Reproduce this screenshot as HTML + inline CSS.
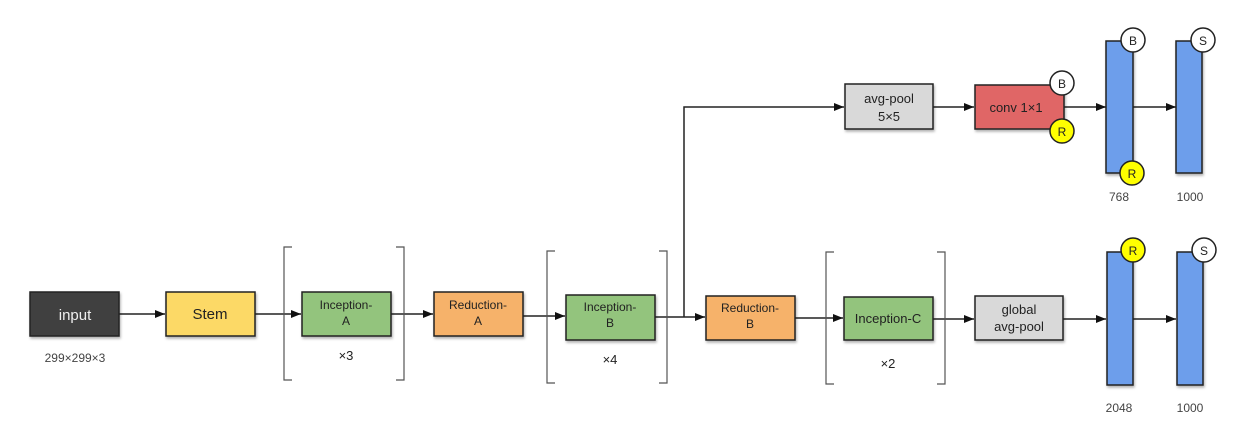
<!DOCTYPE html>
<html><head><meta charset="utf-8"><style>
html,body{margin:0;padding:0;background:#fff;}
svg{display:block;font-family:"Liberation Sans",Arial,sans-serif;}
</style></head><body>
<svg width="1250" height="444" viewBox="0 0 1250 444" xmlns="http://www.w3.org/2000/svg">
<defs>
<marker id="a" markerWidth="10" markerHeight="8" refX="10" refY="4" orient="auto" markerUnits="userSpaceOnUse">
<path d="M0,0 L10,4 L0,8 z" fill="#111"/></marker>
<filter id="sh" x="-10%" y="-10%" width="130%" height="140%"><feDropShadow dx="1" dy="2" stdDeviation="1.2" flood-color="#000" flood-opacity="0.3"/></filter>
</defs>
<g stroke="#222" stroke-width="1.5" fill="none">
<line x1="119" y1="314" x2="165" y2="314" marker-end="url(#a)"/>
<line x1="255" y1="314" x2="301" y2="314" marker-end="url(#a)"/>
<line x1="391" y1="314" x2="433" y2="314" marker-end="url(#a)"/>
<line x1="523" y1="316" x2="565" y2="316" marker-end="url(#a)"/>
<line x1="655" y1="317" x2="705" y2="317" marker-end="url(#a)"/>
<polyline points="684,317 684,107 844,107" marker-end="url(#a)"/>
<line x1="933" y1="107" x2="974" y2="107" marker-end="url(#a)"/>
<line x1="1064" y1="107" x2="1106" y2="107" marker-end="url(#a)"/>
<line x1="1133" y1="107" x2="1176" y2="107" marker-end="url(#a)"/>
<line x1="795" y1="318" x2="843" y2="318" marker-end="url(#a)"/>
<line x1="933" y1="319" x2="974" y2="319" marker-end="url(#a)"/>
<line x1="1063" y1="319" x2="1106" y2="319" marker-end="url(#a)"/>
<line x1="1133" y1="319" x2="1176" y2="319" marker-end="url(#a)"/>
</g>
<!-- brackets -->
<g stroke="#555" stroke-width="1.2" fill="none">
<path d="M292,247 H284 V380 H292"/><path d="M396,247 H404 V380 H396"/>
<path d="M555,251 H547 V383 H555"/><path d="M659,251 H667 V383 H659"/>
<path d="M834,252 H826 V384 H834"/><path d="M937,252 H945 V384 H937"/>
</g>
<g stroke="#222" stroke-width="1.5" filter="url(#sh)">
<rect x="30" y="292" width="89" height="44" fill="#404040"/>
<rect x="166" y="292" width="89" height="44" fill="#fcd966"/>
<rect x="302" y="292" width="89" height="44" fill="#93c47d"/>
<rect x="434" y="292" width="89" height="44" fill="#f6b26b"/>
<rect x="566" y="295" width="89" height="45" fill="#93c47d"/>
<rect x="706" y="296" width="89" height="44" fill="#f6b26b"/>
<rect x="844" y="297" width="89" height="43" fill="#93c47d"/>
<rect x="975" y="296" width="88" height="44" fill="#d9d9d9"/>
<rect x="845" y="84" width="88" height="45" fill="#d9d9d9"/>
<rect x="975" y="85" width="89" height="44" fill="#e06666"/>
<rect x="1106" y="41" width="27" height="132" fill="#6d9eeb"/>
<rect x="1176" y="41" width="26" height="132" fill="#6d9eeb"/>
<rect x="1107" y="252" width="26" height="133" fill="#6d9eeb"/>
<rect x="1177" y="252" width="26" height="133" fill="#6d9eeb"/>
</g>
<g stroke="#222" stroke-width="1.5">
<circle cx="1062" cy="83" r="12" fill="#fff"/>
<circle cx="1062" cy="131" r="12" fill="#ffff00"/>
<circle cx="1133" cy="40" r="12" fill="#fff"/>
<circle cx="1132" cy="173" r="12" fill="#ffff00"/>
<circle cx="1203" cy="40" r="12" fill="#fff"/>
<circle cx="1133" cy="250" r="12" fill="#ffff00"/>
<circle cx="1204" cy="250" r="12" fill="#fff"/>
</g>
<g font-size="12" fill="#222" text-anchor="middle">
<text x="1062" y="88">B</text><text x="1062" y="136">R</text>
<text x="1133" y="45">B</text><text x="1132" y="178">R</text>
<text x="1203" y="45">S</text><text x="1133" y="255">R</text>
<text x="1204" y="255">S</text>
</g>
<g text-anchor="middle" fill="#222">
<text x="75" y="320" font-size="15" fill="#eee">input</text>
<text x="210" y="319" font-size="15">Stem</text>
<text x="346" y="309" font-size="12">Inception-</text><text x="346" y="325" font-size="12">A</text>
<text x="478" y="309" font-size="12">Reduction-</text><text x="478" y="325" font-size="12">A</text>
<text x="610" y="311" font-size="12">Inception-</text><text x="610" y="327" font-size="12">B</text>
<text x="750" y="312" font-size="12">Reduction-</text><text x="750" y="328" font-size="12">B</text>
<text x="888" y="323" font-size="13">Inception-C</text>
<text x="1019" y="314" font-size="13">global</text><text x="1019" y="331" font-size="13">avg-pool</text>
<text x="889" y="103" font-size="13">avg-pool</text><text x="889" y="121" font-size="13">5×5</text>
<text x="1016" y="112" font-size="13">conv 1×1</text>
<text x="346" y="360" font-size="13">×3</text>
<text x="610" y="364" font-size="13">×4</text>
<text x="888" y="368" font-size="13">×2</text>
<g font-size="12" fill="#444">
<text x="75" y="362">299×299×3</text>
<text x="1119" y="201">768</text><text x="1190" y="201">1000</text>
<text x="1119" y="412">2048</text><text x="1190" y="412">1000</text>
</g>
</g>
</svg>
</body></html>
